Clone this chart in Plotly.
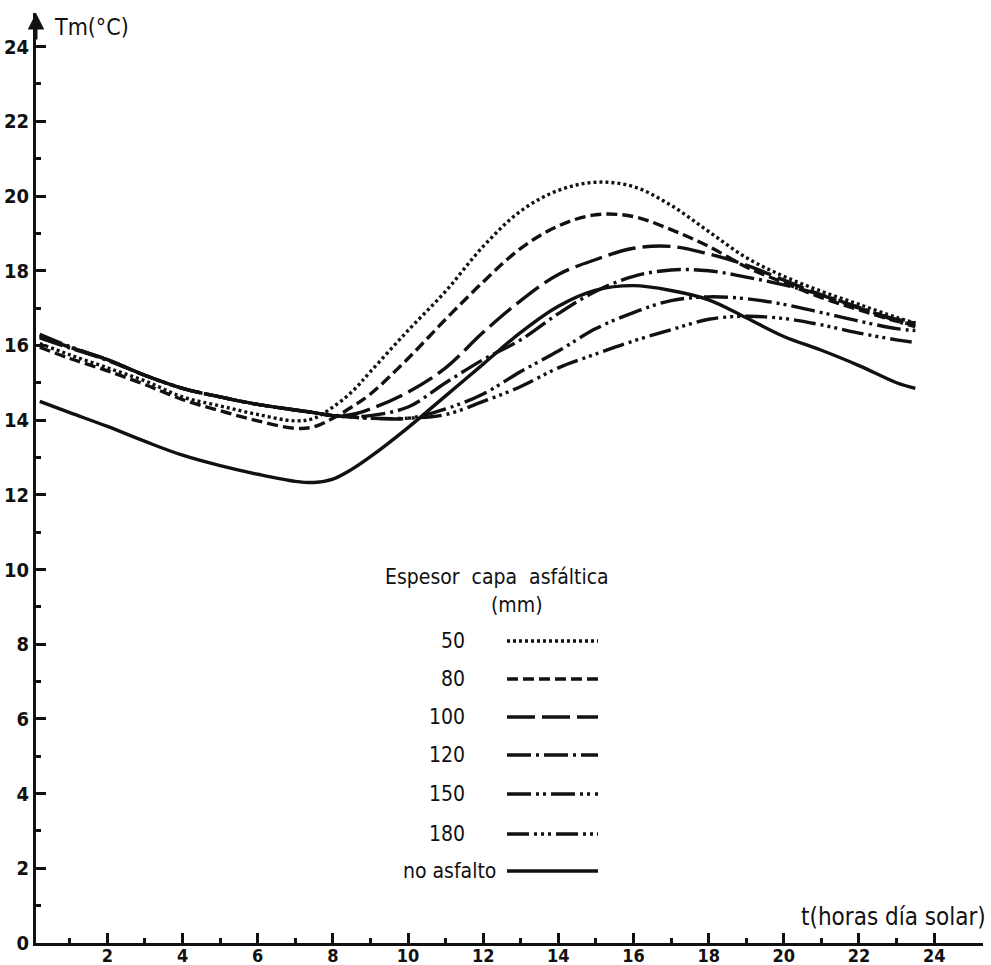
import plotly.graph_objects as go

# Hours of the solar day at which the curves are sampled
hours = [0.2, 1, 2, 3, 4, 5, 6, 7, 7.5, 8, 8.5, 9, 10, 11, 12, 13, 14, 15, 16,
         17, 18, 19, 20, 21, 22, 23, 23.5]

# Mean temperature Tm (°C) for each asphalt layer thickness
tm_50 = [16.05, 15.75, 15.40, 15.05, 14.62, 14.38, 14.15, 13.98, 14.05, 14.35, 14.75, 15.30,
         16.40, 17.45, 18.65, 19.60, 20.15, 20.37, 20.25, 19.75, 19.05, 18.35, 17.85,
         17.45, 17.10, 16.75, 16.60]
tm_80 = [15.95, 15.65, 15.32, 14.95, 14.55, 14.25, 13.98, 13.78, 13.82, 14.05, 14.35, 14.70,
         15.65, 16.70, 17.70, 18.60, 19.20, 19.50, 19.45, 19.10, 18.65, 18.10, 17.68,
         17.28, 16.95, 16.65, 16.55]
tm_100 = [16.25, 15.95, 15.62, 15.20, 14.85, 14.62, 14.42, 14.27, 14.20, 14.12, 14.15, 14.30,
          14.75, 15.40, 16.35, 17.20, 17.90, 18.30, 18.60, 18.65, 18.45, 18.15, 17.75,
          17.35, 17.00, 16.70, 16.60]
tm_120 = [16.20, 15.93, 15.60, 15.20, 14.85, 14.62, 14.42, 14.27, 14.20, 14.12, 14.10, 14.12,
          14.35, 15.00, 15.62, 16.15, 16.85, 17.45, 17.85, 18.02, 18.00, 17.83, 17.62,
          17.35, 17.02, 16.65, 16.50]
tm_150 = [16.30, 15.97, 15.62, 15.20, 14.85, 14.62, 14.42, 14.27, 14.20, 14.12, 14.08, 14.05,
          14.05, 14.30, 14.70, 15.30, 15.85, 16.45, 16.88, 17.20, 17.30, 17.25, 17.10,
          16.88, 16.65, 16.45, 16.40]
tm_180 = [16.25, 15.95, 15.62, 15.20, 14.85, 14.62, 14.42, 14.27, 14.20, 14.12, 14.08, 14.05,
          14.05, 14.15, 14.50, 14.90, 15.40, 15.77, 16.12, 16.42, 16.70, 16.78, 16.72,
          16.55, 16.33, 16.15, 16.08]
tm_none = [14.50, 14.20, 13.83, 13.43, 13.06, 12.78, 12.55, 12.36, 12.33, 12.42, 12.68, 13.02,
           13.80, 14.65, 15.50, 16.35, 17.05, 17.48, 17.60, 17.47, 17.22, 16.74, 16.24,
           15.87, 15.46, 15.00, 14.85]

series_labels = ["50", "80", "100", "120", "150", "180", "no asfalto"]
series_values = [tm_50, tm_80, tm_100, tm_120, tm_150, tm_180, tm_none]
series_dashes = ["3px,3px", "11px,5px", "28px,7px", "24px,5px,3px,5px",
                 "24px,5px,3px,4px,3px,5px", "22px,5px,3px,4px,3px,4px,3px,5px", "solid"]

x_ticks = list(range(2, 25, 2))
y_ticks = list(range(0, 25, 2))

INK = "#111111"
FONT = "DejaVu Sans Condensed, DejaVu Sans, sans-serif"

W, H = 991, 965
L, R, T, B = 36, 8, 13, 22
X_RANGE = [0.1, 25.3]
Y_RANGE = [0, 24.9]


def px(xp):
    return (xp - L) / (W - L - R)


def py(yp):
    return (H - B - yp) / (H - T - B)


fig = go.Figure()

for name, vals, dash in zip(series_labels, series_values, series_dashes):
    fig.add_trace(go.Scatter(
        x=hours, y=vals, mode="lines", name=name,
        line=dict(color=INK, width=3.4, dash=dash, shape="spline", smoothing=1.0),
        showlegend=False, hoverinfo="skip",
    ))

annotations = [
    dict(x=px(52), y=py(27), xref="paper", yref="paper", text="Tm(°C)",
         showarrow=False, xanchor="left", yanchor="middle",
         font=dict(family=FONT, size=23, color=INK)),
    dict(x=px(988), y=py(917), xref="paper", yref="paper", text="t(horas día solar)",
         showarrow=False, xanchor="right", yanchor="middle",
         font=dict(family=FONT, size=24, color=INK)),
    dict(x=px(497), y=py(577), xref="paper", yref="paper", text="Espesor  capa  asfáltica",
         showarrow=False, xanchor="center", yanchor="middle",
         font=dict(family=FONT, size=21, color=INK)),
    dict(x=px(517), y=py(605), xref="paper", yref="paper", text="(mm)",
         showarrow=False, xanchor="center", yanchor="middle",
         font=dict(family=FONT, size=21, color=INK)),
    # axis arrows
    dict(x=X_RANGE[0], y=Y_RANGE[1], xref="x", yref="y", ax=0, ay=28, text="",
         showarrow=True, arrowhead=2, arrowsize=1.1, arrowwidth=3, arrowcolor=INK),
    dict(x=X_RANGE[1] + 0.1, y=0, xref="x", yref="y", ax=-28, ay=0, text="",
         showarrow=True, arrowhead=2, arrowsize=1.1, arrowwidth=3, arrowcolor=INK),
]

# key: labels on the left, line samples on the right
key_rows = [641, 679, 717, 755, 794, 834, 871]
shapes = []
for i, (name, dash) in enumerate(zip(series_labels, series_dashes)):
    yk = key_rows[i]
    right = 498 if name == "no asfalto" else 467
    annotations.append(dict(
        x=px(right), y=py(yk), xref="paper", yref="paper", text=name,
        showarrow=False, xanchor="right", yanchor="middle",
        font=dict(family=FONT, size=21, color=INK)))
    shapes.append(dict(
        type="line", xref="paper", yref="paper",
        x0=px(507), x1=px(598), y0=py(yk), y1=py(yk),
        line=dict(color=INK, width=3.4, dash=dash)))

fig.update_layout(
    width=W, height=H,
    margin=dict(l=L, r=R, t=T, b=B, autoexpand=False),
    paper_bgcolor="white", plot_bgcolor="white",
    annotations=annotations, shapes=shapes,
    xaxis=dict(
        range=X_RANGE, showgrid=False, zeroline=False,
        showline=True, linecolor=INK, linewidth=3,
        tickmode="array", tickvals=x_ticks, ticktext=[str(v) for v in x_ticks],
        ticks="inside", ticklen=10, tickwidth=2.5, tickcolor=INK,
        minor=dict(tickvals=list(range(1, 25, 2)), ticks="inside", ticklen=5,
                   tickwidth=2.5, tickcolor=INK, showgrid=False),
        tickfont=dict(family=FONT, size=18, color=INK, weight="bold"),
        ticklabelstandoff=-6,
        automargin=False, fixedrange=True,
    ),
    yaxis=dict(
        range=Y_RANGE, showgrid=False, zeroline=False,
        showline=True, linecolor=INK, linewidth=3,
        tickmode="array", tickvals=y_ticks, ticktext=[str(v) for v in y_ticks],
        ticks="inside", ticklen=10, tickwidth=2.5, tickcolor=INK,
        minor=dict(tickvals=list(range(1, 25, 2)), ticks="inside", ticklen=5,
                   tickwidth=2.5, tickcolor=INK, showgrid=False),
        tickfont=dict(family=FONT, size=20, color=INK, weight="bold"),
        automargin=False, fixedrange=True,
    ),
)

fig.write_html("out.html")
